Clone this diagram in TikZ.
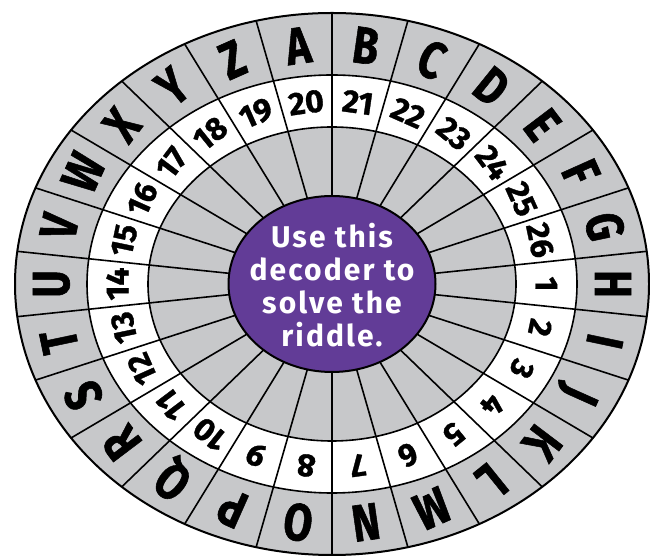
\documentclass[tikz,border=0pt]{standalone}
\usepackage{fontspec}
\setmainfont{Fira Sans}
\definecolor{wheelgray}{RGB}{199,200,202}
\definecolor{wheelpurple}{RGB}{98,60,151}
\tikzset{
  letter/.style = {font=\fontsize{52}{52}\selectfont\bfseries\addfontfeature{FakeBold=1.2},
                   inner sep=0pt, text height=36pt, text depth=0pt},
  number/.style = {font=\fontsize{32}{32}\selectfont\bfseries\addfontfeature{FakeBold=1},
                   inner sep=0pt, text height=22pt, text depth=0pt},
}

\begin{document}
\begin{tikzpicture}[x=1pt, y=1pt, line width=1.6pt]
  \useasboundingbox (0, 0) rectangle (650, 559);

  \begin{scope}[shift={(332, 275)}]
  % 外側の楕円
  \filldraw[fill=wheelgray, line width=2pt] (0, 0) ellipse [x radius=317, y radius=271];
  % 白い輪
  \filldraw[fill=white] (0, 0) ellipse [x radius=245, y radius=209];
  \filldraw[fill=wheelgray] (0, 0) ellipse [x radius=184, y radius=157];

  % 放射線
  \foreach \i in {0, ..., 25}
    \draw ({90 + \i*360/26}:103 and 88) -- ({90 + \i*360/26}:317 and 271);

  % 紫の楕円
  \filldraw[fill=wheelpurple, line width=2pt] (0, 0) ellipse [x radius=103.5, y radius=88];
  \node[font=\fontsize{30}{33}\selectfont\bfseries\addfontfeature{LetterSpace=7},
        text=white, align=center] (msg) at (0, -1)
    {Use this\\decoder to\\solve the\\riddle.};

  % 文字
  \foreach \l [count=\k from 0] in {A, B, ..., Z} {
    \pgfmathsetmacro{\ang}{(7 - \k)*360/26}
    \pgfmathsetmacro{\rot}{atan2(240*sin(\ang), 281*cos(\ang)) - 90}
    \node[letter, rotate=\rot, xscale=0.8] (let\l) at (\ang:281 and 240) {\l};
  }

  % 数字
  \foreach \n in {1, ..., 26} {
    \pgfmathsetmacro{\ang}{-(\n - 1)*360/26}
    \pgfmathsetmacro{\rot}{atan2(183*sin(\ang), 214.5*cos(\ang)) - 90}
    \node[number, rotate=\rot] (num\n) at (\ang:214.5 and 183) {\n};
  }
  \end{scope}

\end{tikzpicture}
\end{document}
